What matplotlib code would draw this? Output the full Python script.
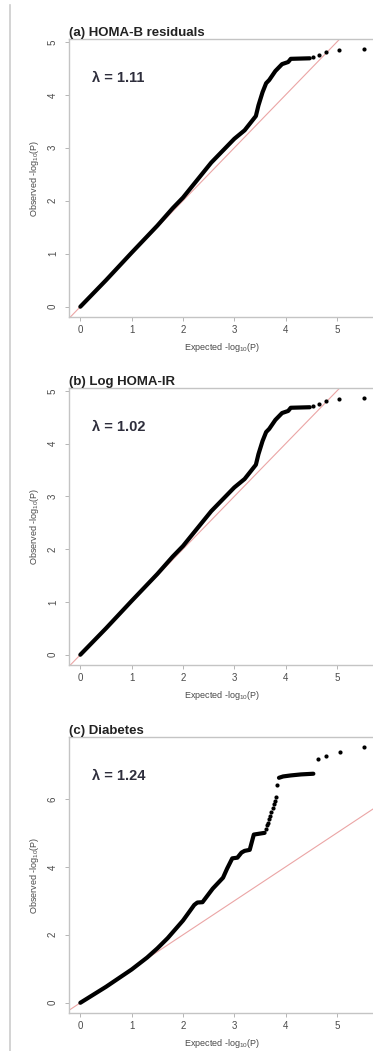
import matplotlib.pyplot as plt
from matplotlib.lines import Line2D

plt.rcParams.update({
    "font.family": ["Liberation Sans", "DejaVu Sans"],
    "mathtext.default": "regular",
})

# --- Data (expected vs observed -log10 P) ---
# (a) HOMA-B residuals: dense part of the curve
homa_b_x = [0, 0.5, 1.0, 1.5, 1.8, 2.0, 2.3, 2.55, 2.8, 3.0, 3.2, 3.42,
            3.47, 3.55, 3.62, 3.68, 3.8, 3.93, 4.05, 4.1, 4.47]
homa_b_y = [0, 0.5, 1.02, 1.53, 1.86, 2.06, 2.42, 2.72, 2.97, 3.17, 3.33, 3.6,
            3.8, 4.05, 4.22, 4.28, 4.45, 4.58, 4.62, 4.68, 4.69]
# sparse top hits
homa_b_tail_x = [4.54, 4.65, 4.79, 5.03, 5.52]
homa_b_tail_y = [4.72, 4.75, 4.81, 4.84, 4.86]

# (b) Log HOMA-IR
homa_ir_x = [0, 0.5, 1.0, 1.5, 1.8, 2.0, 2.3, 2.55, 2.8, 3.0, 3.2, 3.42,
             3.47, 3.55, 3.62, 3.68, 3.8, 3.93, 4.05, 4.1, 4.47]
homa_ir_y = [0, 0.5, 1.02, 1.53, 1.86, 2.06, 2.42, 2.72, 2.97, 3.17, 3.33, 3.6,
             3.8, 4.05, 4.22, 4.28, 4.45, 4.58, 4.62, 4.68, 4.69]
homa_ir_tail_x = [4.54, 4.65, 4.79, 5.03, 5.52]
homa_ir_tail_y = [4.72, 4.75, 4.81, 4.84, 4.86]

# (c) Diabetes
diab_x = [0, 0.5, 1.0, 1.3, 1.5, 1.7, 2.0, 2.22, 2.28, 2.38, 2.58, 2.78,
          2.86, 2.96, 3.06, 3.14, 3.2, 3.3, 3.38, 3.59]
diab_y = [0, 0.47, 0.98, 1.33, 1.6, 1.9, 2.42, 2.88, 2.95, 2.96, 3.36, 3.68,
          3.95, 4.25, 4.27, 4.42, 4.47, 4.5, 4.95, 5.0]
diab_mid_x = [3.61, 3.63, 3.65, 3.67, 3.70, 3.72, 3.75, 3.77, 3.79, 3.81, 3.84]
diab_mid_y = [5.12, 5.22, 5.30, 5.40, 5.50, 5.60, 5.72, 5.84, 5.95, 6.06, 6.40]
diab_flat_x = [3.87, 3.95, 4.1, 4.3, 4.54]
diab_flat_y = [6.62, 6.66, 6.69, 6.72, 6.74]
diab_tail_x = [4.64, 4.79, 5.05, 5.52]
diab_tail_y = [7.16, 7.25, 7.37, 7.52]

titles = ["(a) HOMA-B residuals", "(b) Log HOMA-IR", "(c) Diabetes"]
lambdas = ["λ = 1.11", "λ = 1.02", "λ = 1.24"]

W, H = 373, 1051
fig = plt.figure(figsize=(W / 100, H / 100), dpi=100)
fig.patch.set_facecolor("white")

# thin grey rule down the left edge of the page
fig.add_artist(Line2D([10 / W, 10 / W], [0, 1 - 5 / H], color="#cccccc", lw=1.2))

# axes boxes in pixels: (top, bottom)
boxes = [(39, 317), (388, 665), (737, 1013)]

panels = [
    ([homa_b_x], [homa_b_y], [], [], homa_b_tail_x, homa_b_tail_y, [0, 1, 2, 3, 4, 5]),
    ([homa_ir_x], [homa_ir_y], [], [], homa_ir_tail_x, homa_ir_tail_y, [0, 1, 2, 3, 4, 5]),
    ([diab_x, diab_flat_x], [diab_y, diab_flat_y], diab_mid_x, diab_mid_y,
     diab_tail_x, diab_tail_y, [0, 2, 4, 6]),
]

frame_col = "#c4c4c4"
text_col = "#4a4a4a"

for i, (lx, ly, mx, my, tx, ty, yticks) in enumerate(panels):
    top, bot = boxes[i]
    ax = fig.add_axes([69 / W, 1 - bot / H, 306 / W, (bot - top) / H])

    for xs, ys in zip(lx, ly):
        ax.plot(xs, ys, color="black", lw=3.0, solid_capstyle="round",
                solid_joinstyle="round", zorder=3)
    if mx:
        ax.scatter(mx, my, s=9, color="black", zorder=3, linewidths=0)
    ax.scatter(tx, ty, s=9, color="black", zorder=3, linewidths=0)

    # R-style 4% padding around the data
    xmax = max(tx)
    ymax = max(ty)
    ax.set_xlim(-0.04 * xmax, xmax * 1.04)
    ax.set_ylim(-0.04 * ymax, ymax * 1.04)

    ax.axline((0, 0), slope=1, color="#eba5a5", lw=0.8, zorder=2)

    ax.set_xticks([0, 1, 2, 3, 4, 5])
    ax.set_yticks(yticks)
    ax.tick_params(direction="out", length=3, width=0.6, color="#aaaaaa",
                   labelsize=7, labelcolor=text_col)
    ax.tick_params(axis="y", labelrotation=90, pad=5)
    ax.tick_params(axis="x", pad=3)
    for lab in ax.get_yticklabels():
        lab.set_va("center")

    for sp in ax.spines.values():
        sp.set_color(frame_col)
        sp.set_linewidth(1.0)

    ax.set_xlabel("Expected -log$_{10}$(P)", fontsize=6.5, color=text_col, labelpad=4)
    ax.set_ylabel("Observed -log$_{10}$(P)", fontsize=6.5, color=text_col, labelpad=5)
    ax.set_title(titles[i], loc="left", fontsize=9.5, fontweight="bold",
                 color="#222222", pad=2)

    ax.text(0.075, 0.86, lambdas[i], transform=ax.transAxes, fontsize=10.5,
            fontweight="bold", color="#2e2e3c", va="center", ha="left")

fig.savefig("out.png", dpi=100, facecolor="white")
